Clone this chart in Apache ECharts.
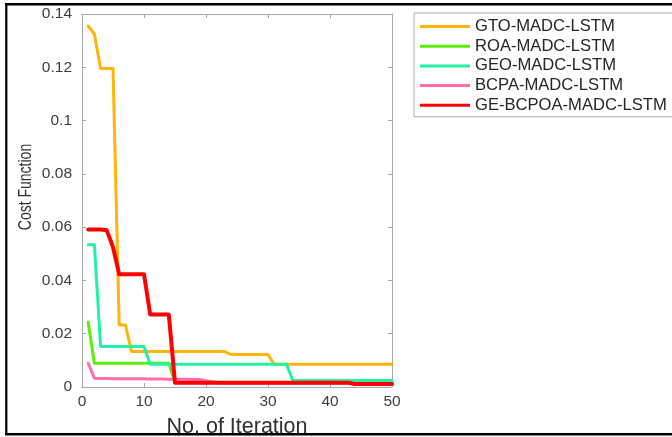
<!DOCTYPE html>
<html>
<head>
<meta charset="utf-8">
<script src="https://cdn.jsdelivr.net/npm/echarts@6/dist/echarts.min.js"></script>
<style>
html,body{margin:0;padding:0;background:#fff;}
#c{width:672px;height:437px;}
</style>
</head>
<body>
<div id="c"></div>
<script>
const iterations = [1,2,3,4,5,6,7,8,9,10,11,12,13,14,15,16,17,18,19,20,21,22,23,24,25,26,27,28,29,30,31,32,33,34,35,36,37,38,39,40,41,42,43,44,45,46,47,48,49,50];
const seriesNames = ['GTO-MADC-LSTM','ROA-MADC-LSTM','GEO-MADC-LSTM','BCPA-MADC-LSTM','GE-BCPOA-MADC-LSTM'];
const gto = [0.1355,0.1325,0.1195,0.1195,0.1195,0.0233,0.0233,0.0133,0.0133,0.0133,
             0.0133,0.0133,0.0133,0.0133,0.0133,0.0133,0.0133,0.0133,0.0133,0.0133,
             0.0133,0.0133,0.0133,0.0122,0.0122,0.0122,0.0122,0.0122,0.0122,0.0122,
             0.0085,0.0085,0.0085,0.0085,0.0085,0.0085,0.0085,0.0085,0.0085,0.0085,
             0.0085,0.0085,0.0085,0.0085,0.0085,0.0085,0.0085,0.0085,0.0085,0.0085];
const roa = [0.0243,0.0089,0.0089,0.0089,0.0089,0.0089,0.0089,0.0089,0.0089,0.0089,
             0.0089,0.0089,0.0089,0.0089,0.0016,0.0016,0.0016,0.0016,0.0016,0.0016,
             0.0016,0.0016,0.0016,0.0016,0.0016,0.0016,0.0016,0.0016,0.0016,0.0016,
             0.0016,0.0016,0.0016,0.0016,0.0016,0.0016,0.0016,0.0016,0.0016,0.0016,
             0.0016,0.0016,0.0016,0.0011,0.0011,0.0011,0.0011,0.0011,0.0011,0.0011];
const geo = [0.0534,0.0534,0.0152,0.0152,0.0152,0.0152,0.0152,0.0152,0.0152,0.0152,
             0.0085,0.0085,0.0085,0.0085,0.0085,0.0085,0.0085,0.0085,0.0085,0.0085,
             0.0085,0.0085,0.0085,0.0085,0.0085,0.0085,0.0085,0.0085,0.0085,0.0085,
             0.0085,0.0085,0.0085,0.0024,0.0024,0.0024,0.0024,0.0024,0.0024,0.0024,
             0.0024,0.0024,0.0024,0.0024,0.0024,0.0024,0.0024,0.0024,0.0024,0.0024];
const bcpa = [0.0089,0.0033,0.0032,0.0032,0.0031,0.0031,0.0031,0.0031,0.0031,0.0031,
              0.0030,0.0030,0.0030,0.0029,0.0029,0.0029,0.0029,0.0028,0.0028,0.0024,
              0.0020,0.0016,0.0016,0.0016,0.0016,0.0016,0.0016,0.0016,0.0016,0.0016,
              0.0016,0.0016,0.0016,0.0016,0.0016,0.0016,0.0016,0.0016,0.0016,0.0016,
              0.0016,0.0016,0.0016,0.0011,0.0011,0.0011,0.0011,0.0011,0.0011,0.0011];
const gebcpoa = [0.0591,0.0591,0.0591,0.0588,0.0525,0.0423,0.0423,0.0423,0.0423,0.0423,
                 0.0272,0.0272,0.0272,0.0272,0.0016,0.0016,0.0016,0.0016,0.0016,0.0016,
                 0.0016,0.0016,0.0016,0.0016,0.0016,0.0016,0.0016,0.0016,0.0016,0.0016,
                 0.0016,0.0016,0.0016,0.0016,0.0016,0.0016,0.0016,0.0016,0.0016,0.0016,
                 0.0016,0.0016,0.0016,0.0011,0.0011,0.0011,0.0011,0.0011,0.0011,0.0011];
const xTicks = [0,10,20,30,40,50];
const yTicks = [0,0.02,0.04,0.06,0.08,0.1,0.12,0.14];

const allValues = [gto, roa, geo, bcpa, gebcpoa];
const colors = ['#FFB50A','#5EEE0C','#22F2A2','#FF6EB0','#FF0000'];
const widths = [3,3,3,3,4];

const FONT = 'Liberation Sans, Arial, sans-serif';
const axisGray = '#a8a8a8';
const labelColor = '#3c3c3c';

const chart = echarts.init(document.getElementById('c'), null, {renderer:'canvas'});

const series = allValues.map((vals, i) => ({
  name: seriesNames[i],
  type: 'line',
  xAxisIndex: 0,
  yAxisIndex: 0,
  data: iterations.map((x, j) => [x, vals[j]]),
  showSymbol: false,
  symbol: 'none',
  color: colors[i],
  lineStyle: {color: colors[i], width: widths[i], join: 'round', cap: 'round'},
  z: 2 + i
}));

function baseAxis(extra) {
  return Object.assign({
    type: 'value',
    axisLine: {show: true, onZero: false, lineStyle: {color: axisGray, width: 1}},
    axisTick: {show: true, inside: true, length: 4, lineStyle: {color: axisGray}},
    splitLine: {show: false}
  }, extra);
}

const option = {
  animation: false,
  backgroundColor: '#ffffff',
  grid: {left: 82, right: 280, top: 14, bottom: 50, containLabel: false},
  xAxis: [
    baseAxis({min: xTicks[0], max: xTicks[xTicks.length-1], interval: 10, position: 'bottom',
      axisLabel: {show: true, margin: 7, fontSize: 15.5, color: labelColor, fontFamily: FONT}}),
    baseAxis({min: xTicks[0], max: xTicks[xTicks.length-1], interval: 10, position: 'top',
      axisLabel: {show: false}})
  ],
  yAxis: [
    baseAxis({min: yTicks[0], max: yTicks[yTicks.length-1], interval: 0.02, position: 'left',
      axisLabel: {show: true, margin: 10, fontSize: 15.5, color: labelColor, fontFamily: FONT,
        formatter: v => String(+v.toFixed(2))}}),
    baseAxis({min: yTicks[0], max: yTicks[yTicks.length-1], interval: 0.02, position: 'right',
      axisLabel: {show: false}})
  ],
  legend: {
    orient: 'vertical',
    left: 414,
    top: 13,
    icon: 'rect',
    itemWidth: 50,
    itemHeight: 3,
    itemGap: 2.7,
    padding: [5, 10, 3, 6],
    borderColor: '#b0b0b0',
    borderWidth: 1,
    data: seriesNames,
    textStyle: {fontSize: 16.6, fontFamily: FONT, color: '#262626', lineHeight: 16}
  },
  graphic: [
    {type: 'text', x: 26.5, y: 187, rotation: Math.PI/2, scaleY: 1.28, z: 10,
      style: {text: 'Cost Function', font: '14px ' + FONT, fill: '#303030', align: 'center', verticalAlign: 'middle'}},
    {type: 'text', x: 237, y: 427, z: 10,
      style: {text: 'No. of Iteration', font: '21.5px ' + FONT, fill: '#303030', align: 'center', verticalAlign: 'middle'}},
    {type: 'line', z: 20, shape: {x1: 5, y1: 4.2, x2: 672, y2: 4.2}, style: {stroke: '#000', lineWidth: 2.4}},
    {type: 'line', z: 20, shape: {x1: 6.3, y1: 3, x2: 6.3, y2: 435}, style: {stroke: '#000', lineWidth: 2.2}},
    {type: 'line', z: 20, shape: {x1: 5, y1: 434.2, x2: 672, y2: 434.2}, style: {stroke: '#000', lineWidth: 2.4}}
  ],
  series: series
};
chart.setOption(option);
</script>
</body>
</html>
